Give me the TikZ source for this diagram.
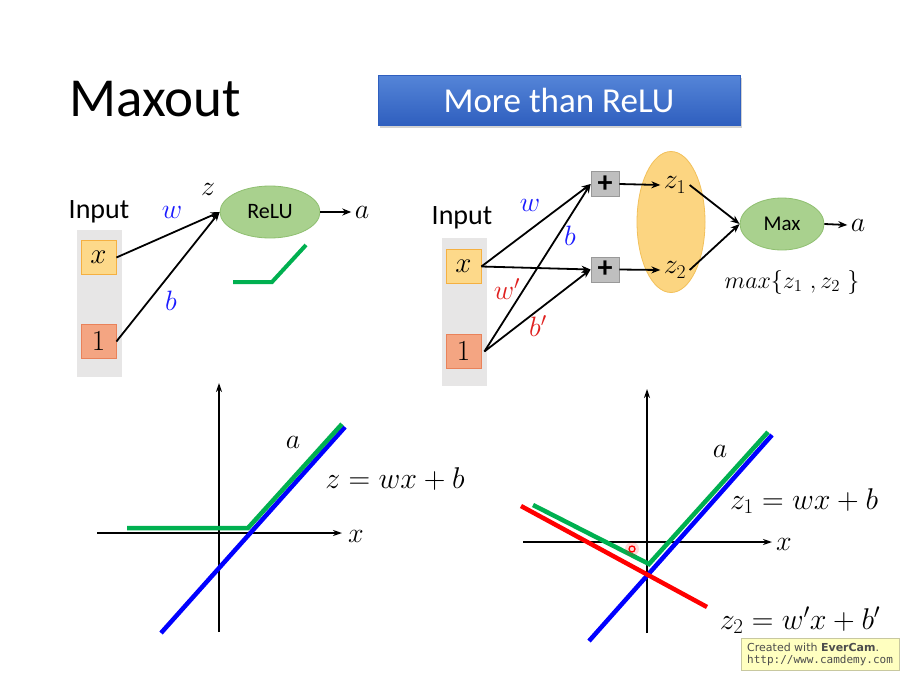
\RequirePackage{fix-cm}
\documentclass[tikz,border=0pt]{standalone}
\usepackage{fontspec}
\setsansfont{Carlito}
\usetikzlibrary{shapes.geometric,arrows.meta,shadows}
\definecolor{boxX}{HTML}{FDD98A}
\definecolor{boxXb}{HTML}{F5B041}
\definecolor{boxOne}{HTML}{F4A582}
\definecolor{boxOneb}{HTML}{E9825A}
\definecolor{panel}{HTML}{E7E6E6}
\definecolor{gfill}{HTML}{A9D18E}
\definecolor{gbord}{HTML}{8FBF70}
\definecolor{ofill}{HTML}{FCD581}
\definecolor{obord}{HTML}{F2C05A}
\definecolor{pfill}{HTML}{BFBFBF}
\definecolor{pbord}{HTML}{999999}
\definecolor{lgreen}{HTML}{00B050}
\definecolor{lblue}{HTML}{0000FF}
\definecolor{lred}{HTML}{FF0000}
\definecolor{tblue}{HTML}{1A1AFF}
\definecolor{tred}{HTML}{E0201F}
\definecolor{banTop}{HTML}{5585D8}
\definecolor{banBot}{HTML}{2F5FBF}
\definecolor{everfill}{HTML}{FFFFC0}
\definecolor{everbord}{HTML}{C8C8A0}
\newfontfamily\everfont{DejaVu Sans}
\newfontfamily\evermono{DejaVu Sans Mono}
\tikzset{
  inbox/.style={draw, line width=0.8pt, minimum width=35pt, minimum height=34pt, inner sep=0pt, font=\fontsize{29}{30}\selectfont},
  plusbox/.style={draw=pbord, fill=pfill, line width=0.8pt, minimum width=28pt, minimum height=25pt, inner sep=0pt, font=\sffamily\bfseries\fontsize{30}{30}\selectfont},
  gell/.style={ellipse, draw=gbord, fill=gfill, line width=0.8pt, inner sep=0pt},
  conn/.style={-{Stealth[length=9pt,width=7pt]}, line width=1.8pt},
  axis/.style={-{Stealth[length=9pt,width=6pt]}, line width=1.5pt},
  curve/.style={line width=4.5pt},
  lab/.style={font=\fontsize{28}{30}\selectfont},
  eqn/.style={font=\fontsize{30}{34}\selectfont, anchor=center},
}
\begin{document}
\begin{tikzpicture}[x=1pt,y=-1pt]
\useasboundingbox (0,0) rectangle (909,680);
\fill[white] (0,0) rectangle (909,680);

% title
\node[font=\sffamily\fontsize{55}{58}\selectfont, anchor=west] (title) at (66,99) {Maxout};
% banner
\node[drop shadow={opacity=0.35, shadow xshift=2pt, shadow yshift=-3pt}, top color=banTop, bottom color=banBot, draw=banBot, minimum width=362pt, minimum height=50pt, inner sep=0pt, text=white, font=\sffamily\fontsize{35}{37}\selectfont] (banner) at (559,100) {More than ReLU};

% ---------- left network ----------
\fill[panel] (77,230) rectangle (122,377);
\node[font=\sffamily\fontsize{28}{30}\selectfont] (inL) at (99,212) {Input};
\node[inbox, fill=boxX, draw=boxXb] (xL) at (98.5,257.5) {$x$};
\node[inbox, fill=boxOne, draw=boxOneb] (oneL) at (98.5,341.5) {$1$};
\node[gell, minimum width=100pt, minimum height=52pt, font=\sffamily\fontsize{22}{24}\selectfont] (relu) at (270,212) {ReLU};
\draw[conn] (xL.east) -- (relu.west);
\draw[conn] (oneL.east) -- (relu.west);
\node[lab, text=tblue] (wL) at (172,212) {$w$};
\node[lab, text=tblue] (bL) at (171,301) {$b$};
\node[lab] (zL) at (208,189) {$z$};
\node[lab] (aL) at (362,212) {$a$};
\draw[conn] (relu.east) -- (aL.west);
\draw[lgreen, line width=4pt] (233,282) -- (272,282) -- (306,245);

% ---------- right network ----------
\fill[panel] (442,238) rectangle (487,386);
\node[font=\sffamily\fontsize{28}{30}\selectfont] (inR) at (462,218) {Input};
\node[inbox, fill=boxX, draw=boxXb] (xR) at (463.5,266.5) {$x$};
\node[inbox, fill=boxOne, draw=boxOneb] (oneR) at (463.5,351.5) {$1$};
\node[plusbox] (p1) at (605,184) {+};
\node[plusbox] (p2) at (605,269.5) {+};
\node[ellipse, draw=obord, fill=ofill, line width=0.8pt, minimum width=68pt, minimum height=141pt, inner sep=0pt] (oval) at (671,222) {};
\node[lab] (z1) at (675,185) {$z_1$};
\node[lab] (z2) at (675,270) {$z_2$};
\node[gell, minimum width=84pt, minimum height=52pt, font=\sffamily\fontsize{21}{23}\selectfont] (max) at (782,224) {Max};
\node[lab] (aR) at (858,225) {$a$};
\node[font=\fontsize{24}{26}\selectfont] (maxf) at (792,282) {$max\{z_1\ ,z_2\ \}$};
\draw[conn] (xR.east) -- (p1.west);
\draw[conn] (xR.east) -- (p2.west);
\draw[conn] ([xshift=3pt]oneR.east) -- (p1.west);
\draw[conn] ([xshift=3pt]oneR.east) -- (p2.west);
\draw[conn] (p1.east) -- (z1.west);
\draw[conn] (p2.east) -- (z2.west);
\draw[conn] (z1.east) -- (max.west);
\draw[conn] (z2.east) -- (max.west);
\draw[conn] (max.east) -- (aR.west);
\node[lab, text=tblue] (wR) at (530,205) {$w$};
\node[lab, text=tblue] (bR) at (570,236) {$b$};
\node[lab, text=tred] (wpR) at (507,289) {$w'$};
\node[lab, text=tred] (bpR) at (538,326) {$b'$};

% ---------- left plot ----------
\coordinate (yb1) at (219,632); \coordinate (yt1) at (219,383);
\coordinate (xl1) at (97,533); \coordinate (xr1) at (342,533);
\draw[axis] (yb1) -- (yt1);
\draw[axis] (xl1) -- (xr1);
\node[lab] (xlab1) at (356,536) {$x$};
\coordinate (bl1) at (161,633); \coordinate (bt1) at (345,427);
\draw[curve, lblue] (bl1) -- (bt1);
\coordinate (g1a) at (127,528); \coordinate (g1b) at (248,528); \coordinate (g1c) at (342,424);
\draw[curve, lgreen] (g1a) -- (g1b) -- (g1c);
\node[lab] (a1) at (293,442) {$a$};
\node[eqn] (eq1) at (395,479) {$z = wx + b$};

% ---------- right plot ----------
\coordinate (yb2) at (647,633); \coordinate (yt2) at (647,389);
\coordinate (xl2) at (523,542); \coordinate (xr2) at (772,542);
\draw[axis] (yb2) -- (yt2);
\draw[axis] (xl2) -- (xr2);
\node[lab] (xlab2) at (784,544) {$x$};
\coordinate (bl2) at (589,641); \coordinate (bt2) at (772,435);
\draw[curve, lblue] (bl2) -- (bt2);
\coordinate (g2a) at (533,505); \coordinate (g2b) at (649,564); \coordinate (g2c) at (768,432);
\draw[curve, lgreen] (g2a) -- (g2b) -- (g2c);
\coordinate (r2a) at (521,506); \coordinate (r2b) at (707,607);
\draw[curve, lred] (r2a) -- (r2b);
\node[lab] (a2) at (720,451) {$a$};
\node[eqn] (eq2) at (804,501) {$z_1 = wx + b$};
\node[eqn] (eq3) at (800,620) {$z_2 = w'x + b'$};
% cursor highlight
\fill[lred, opacity=0.15] (632,549) circle (7pt);
\draw[lred, line width=1.3pt] (632,549) circle (3pt);

% ---------- EverCam badge ----------
\node[draw=everbord, fill=everfill, line width=0.8pt, minimum width=158pt, minimum height=32pt, inner sep=0pt, anchor=north west] (ever) at (741,638) {};
\node[align=left, anchor=west, text=black!70, inner sep=0pt] (evertext) at (747,654) {\everfont\fontsize{11}{14}\selectfont Created with \textbf{EverCam}.\\\evermono\fontsize{11}{14}\selectfont http://www.camdemy.com};
\end{tikzpicture}
\end{document}
